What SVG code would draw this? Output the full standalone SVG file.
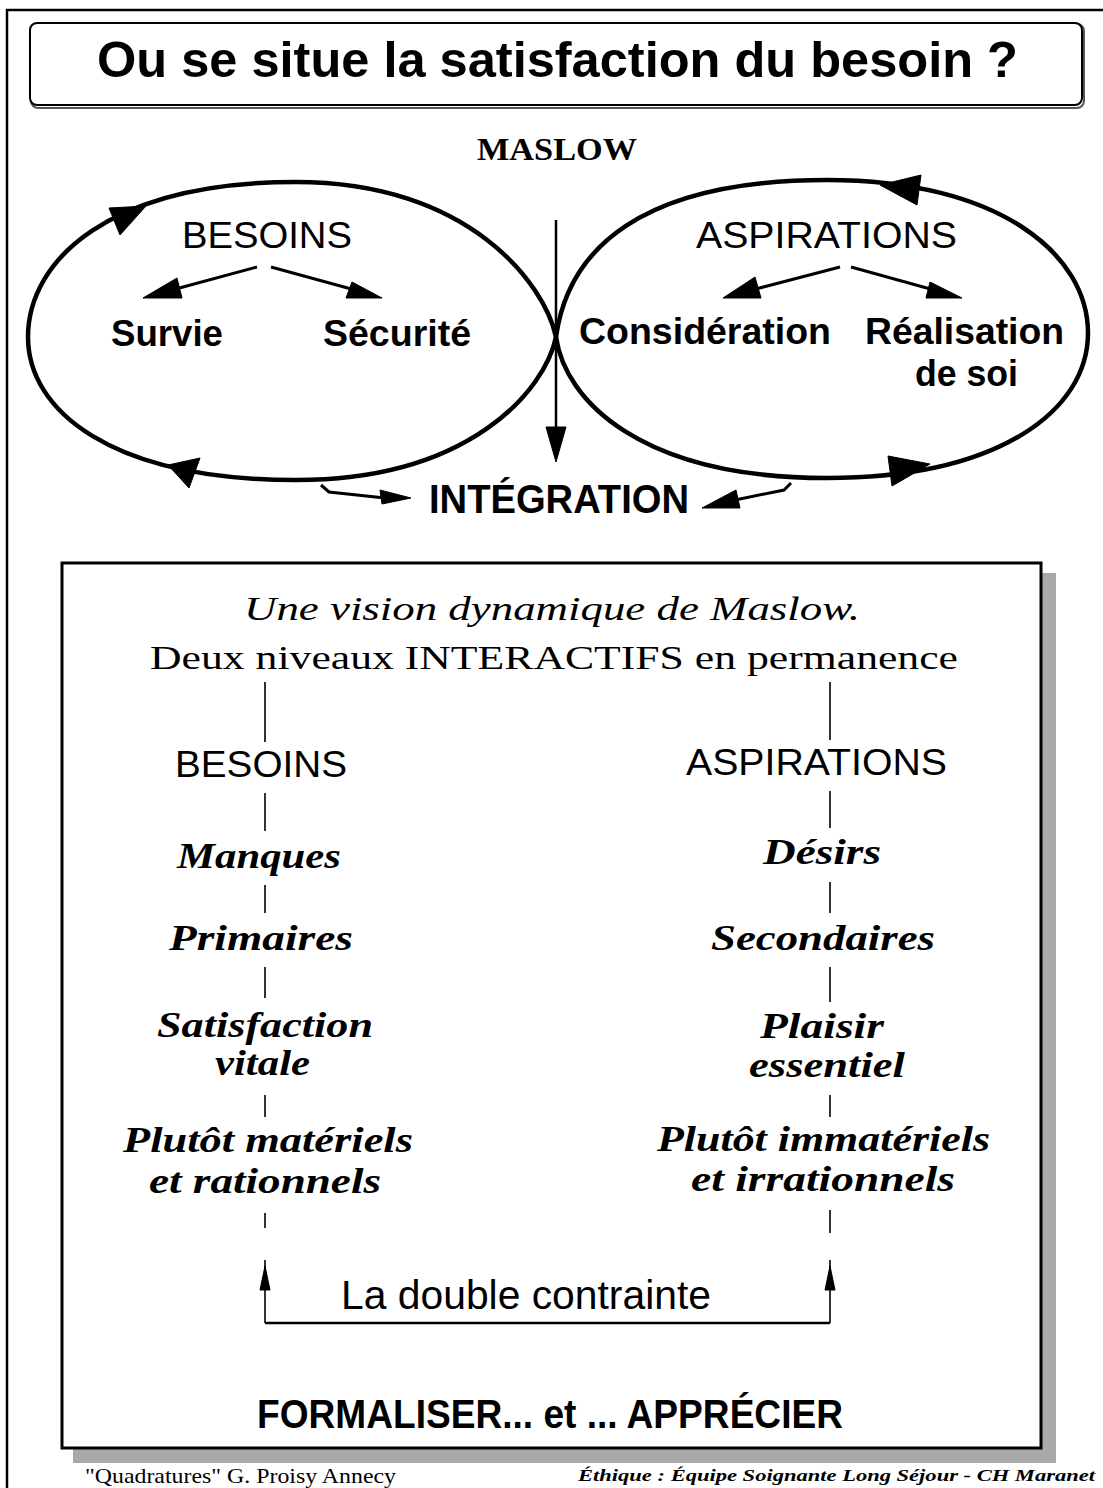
<svg xmlns="http://www.w3.org/2000/svg" width="1103" height="1488" viewBox="0 0 1103 1488">
<style>
.sans{font-family:"Liberation Sans",Arial,sans-serif;fill:#000}
.serif{font-family:"Liberation Serif","Times New Roman",serif;fill:#000}
.b{font-weight:bold}
.i{font-style:italic}
.loop{fill:none;stroke:#000;stroke-width:4.5}
.ln{fill:none;stroke:#000;stroke-width:3}
.thin{fill:none;stroke:#000;stroke-width:1.6}
.head{fill:#000;stroke:#000;stroke-width:1}
</style>
<rect width="1103" height="1488" fill="#fff"/>
<g id="frame">
<path d="M7,1488 V10 H1103" fill="none" stroke="#000" stroke-width="2.5"/>
</g>
<g id="title">
<rect x="31" y="24" width="1053" height="84" rx="7" fill="none" stroke="#555" stroke-width="2"/>
<rect x="30" y="23" width="1052" height="82" rx="7" fill="#fff" stroke="#000" stroke-width="2"/>
<text class="sans b" x="97" y="77" font-size="50" textLength="921" lengthAdjust="spacingAndGlyphs">Ou se situe la satisfaction du besoin ?</text>
</g>
<g id="maslow">
<text class="serif b" x="477" y="160" font-size="32" textLength="160" lengthAdjust="spacingAndGlyphs">MASLOW</text>
</g>
<g id="besoins-loop">
<path class="loop" d="M556,337 C545,390 470,480 296,480 C110,480 28,410 28,337 C28,260 110,182 296,182 C470,182 545,285 556,337 Z"/>
<polygon class="head" points="146,206 109,208 120,235"/>
<polygon class="head" points="168,465 200,458 189,488"/>
<text class="sans" x="182" y="248" font-size="36" textLength="170" lengthAdjust="spacingAndGlyphs">BESOINS</text>
</g>
<g id="survie"><text class="sans b" x="111" y="346" font-size="36" textLength="112" lengthAdjust="spacingAndGlyphs">Survie</text></g>
<g id="securite"><text class="sans b" x="323" y="346" font-size="36" textLength="148" lengthAdjust="spacingAndGlyphs">Sécurité</text></g>
<g id="aspirations-loop">
<path class="loop" d="M556,337 C568,250 640,180 827,180 C1000,180 1088,255 1088,333 C1088,410 1000,478 827,478 C640,478 565,400 556,337 Z"/>
<polygon class="head" points="880,185 921,175 917,205"/>
<polygon class="head" points="930,464 888,456 892,486"/>
<text class="sans" x="696" y="248" font-size="36" textLength="261" lengthAdjust="spacingAndGlyphs">ASPIRATIONS</text>
</g>
<g id="consideration"><text class="sans b" x="579" y="344" font-size="36" textLength="252" lengthAdjust="spacingAndGlyphs">Considération</text></g>
<g id="realisation">
<text class="sans b" x="865" y="344" font-size="36" textLength="199" lengthAdjust="spacingAndGlyphs">Réalisation</text>
<text class="sans b" x="915" y="386" font-size="36" textLength="103" lengthAdjust="spacingAndGlyphs">de soi</text>
</g>
<g id="integration"><text class="sans b" x="429" y="513" font-size="40" textLength="260" lengthAdjust="spacingAndGlyphs">INTÉGRATION</text></g>
<g id="connectors">
<line class="ln" x1="257" y1="267" x2="172" y2="290"/>
<polygon class="head" points="143,298 182,298 177,278"/>
<line class="ln" x1="271" y1="267" x2="355" y2="290"/>
<polygon class="head" points="382,298 346,298 352,282"/>
<line class="ln" x1="840" y1="267" x2="752" y2="290"/>
<polygon class="head" points="723,298 761,298 755,277"/>
<line class="ln" x1="851" y1="267" x2="934" y2="290"/>
<polygon class="head" points="962,298 926,298 930,282"/>
<line x1="556" y1="220" x2="556" y2="440" stroke="#000" stroke-width="2.5"/>
<polygon class="head" points="556,462 546,427 566,427"/>
<polyline class="ln" points="321,485 329,492 385,498"/>
<polygon class="head" points="411,498 380,490 382,504"/>
<polyline class="ln" points="791,483 784,490 735,500"/>
<polygon class="head" points="702,508 736,490 740,508"/>
</g>
<g id="panel">
<rect x="73" y="573" width="983" height="890" fill="#a9a9a9"/>
<rect x="62" y="563" width="979" height="885" fill="#fff" stroke="#000" stroke-width="3"/>
<text class="serif i" x="244" y="620" font-size="33" textLength="616" lengthAdjust="spacingAndGlyphs">Une vision dynamique de Maslow.</text>
<text class="serif" x="150" y="669" font-size="33" textLength="808" lengthAdjust="spacingAndGlyphs">Deux niveaux INTERACTIFS  en permanence</text>
</g>
<g id="col-besoins">
<text class="sans" x="175" y="777" font-size="36" textLength="172" lengthAdjust="spacingAndGlyphs">BESOINS</text>
<text class="serif b i" x="177" y="868" font-size="35" textLength="164" lengthAdjust="spacingAndGlyphs">Manques</text>
<text class="serif b i" x="169" y="950" font-size="35" textLength="184" lengthAdjust="spacingAndGlyphs">Primaires</text>
<text class="serif b i" x="157" y="1037" font-size="35" textLength="216" lengthAdjust="spacingAndGlyphs">Satisfaction</text>
<text class="serif b i" x="215" y="1075" font-size="35" textLength="95" lengthAdjust="spacingAndGlyphs">vitale</text>
<text class="serif b i" x="123" y="1152" font-size="35" textLength="290" lengthAdjust="spacingAndGlyphs">Plutôt matériels</text>
<text class="serif b i" x="149" y="1193" font-size="35" textLength="232" lengthAdjust="spacingAndGlyphs">et rationnels</text>
</g>
<g id="col-aspirations">
<text class="sans" x="686" y="775" font-size="36" textLength="261" lengthAdjust="spacingAndGlyphs">ASPIRATIONS</text>
<text class="serif b i" x="763" y="864" font-size="35" textLength="118" lengthAdjust="spacingAndGlyphs">Désirs</text>
<text class="serif b i" x="711" y="950" font-size="35" textLength="224" lengthAdjust="spacingAndGlyphs">Secondaires</text>
<text class="serif b i" x="760" y="1038" font-size="35" textLength="124" lengthAdjust="spacingAndGlyphs">Plaisir</text>
<text class="serif b i" x="749" y="1077" font-size="35" textLength="156" lengthAdjust="spacingAndGlyphs">essentiel</text>
<text class="serif b i" x="657" y="1151" font-size="35" textLength="333" lengthAdjust="spacingAndGlyphs">Plutôt immatériels</text>
<text class="serif b i" x="691" y="1191" font-size="35" textLength="264" lengthAdjust="spacingAndGlyphs">et irrationnels</text>
</g>
<g id="panel-connectors">
<path class="thin" d="M265,682V742M265,793V831M265,885V913M265,967V998M265,1095V1117M265,1213V1228"/>
<path class="thin" d="M830,682V740M830,791V828M830,882V913M830,967V1002M830,1095V1117M830,1210V1233"/>
<path class="thin" d="M265,1323V1260M830,1323V1260"/>
<polygon class="head" points="265,1266 260,1290 270,1290"/>
<polygon class="head" points="830,1266 825,1290 835,1290"/>
<line x1="265" y1="1323" x2="830" y2="1323" stroke="#000" stroke-width="2.5"/>
</g>
<g id="double-contrainte"><text class="sans" x="341" y="1309" font-size="40" textLength="370" lengthAdjust="spacingAndGlyphs">La double contrainte</text></g>
<g id="formaliser"><text class="sans b" x="257" y="1428" font-size="41" textLength="586" lengthAdjust="spacingAndGlyphs">FORMALISER... et ... APPRÉCIER</text></g>
<g id="footer">
<text class="serif" x="85" y="1483" font-size="22" textLength="311" lengthAdjust="spacingAndGlyphs">"Quadratures" G. Proisy Annecy</text>
<text class="serif b i" x="578" y="1481" font-size="17" textLength="517" lengthAdjust="spacingAndGlyphs">Éthique : Équipe Soignante Long Séjour - CH Maranet</text>
</g>
</svg>
